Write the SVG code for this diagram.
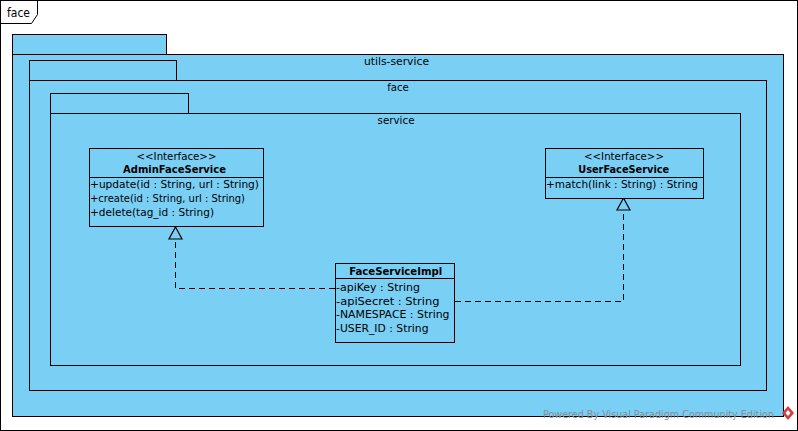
<svg xmlns="http://www.w3.org/2000/svg" width="798" height="431" viewBox="0 0 798 431">
<style>
text{font-family:"DejaVu Sans","Liberation Sans",sans-serif;font-size:11px;fill:#000}
.pkg{fill:#7acff5;stroke:#000;stroke-width:1}
.cls{fill:#7acff5;stroke:#000;stroke-width:1}
.c{text-anchor:middle}
.b{font-weight:bold}
.dep{fill:none;stroke:#000;stroke-width:1;stroke-dasharray:6,4}
.tri{fill:#7acff5;stroke:#000;stroke-width:1.2}
</style>
<rect x="0" y="0" width="798" height="431" fill="#fff"/>
<g id="frame">
<rect x="0.5" y="0.5" width="797" height="430" fill="#fff" stroke="#000"/>
<path d="M0.5,23.5 H31.5 L37.5,14.5 V0.5" fill="none" stroke="#000"/>
<text x="7" y="16.5" style="font-size:12px" textLength="23" lengthAdjust="spacingAndGlyphs">face</text>
</g>
<g id="pkg-utils-service">
<rect class="pkg" x="12.5" y="34.5" width="154" height="20"/>
<rect class="pkg" x="12.5" y="54.5" width="771" height="362"/>
<text class="c" x="396.5" y="65" textLength="65" lengthAdjust="spacingAndGlyphs">utils-service</text>
</g>
<g id="pkg-face">
<rect class="pkg" x="29.5" y="60.5" width="147" height="20"/>
<rect class="pkg" x="29.5" y="80.5" width="737" height="310"/>
<text class="c" x="398" y="91" textLength="21.5" lengthAdjust="spacingAndGlyphs">face</text>
</g>
<g id="pkg-service">
<rect class="pkg" x="50.5" y="93.5" width="138" height="20"/>
<rect class="pkg" x="50.5" y="113.5" width="690" height="252"/>
<text class="c" x="396" y="124" textLength="37" lengthAdjust="spacingAndGlyphs">service</text>
</g>
<g id="connectors">
<polyline class="dep" points="335,288.5 175.5,288.5 175.5,239"/>
<polygon class="tri" points="175.5,227 182,239 169,239"/>
<polyline class="dep" points="455,301.5 623.5,301.5 623.5,210"/>
<polygon class="tri" points="623.5,198 630,210 617,210"/>
</g>
<g id="AdminFaceService">
<rect class="cls" x="89.5" y="148.5" width="174" height="78"/>
<line x1="89.5" y1="177.5" x2="263.5" y2="177.5" stroke="#000"/>
<text class="c" x="176.5" y="159.5" textLength="80" lengthAdjust="spacingAndGlyphs">&lt;&lt;Interface&gt;&gt;</text>
<text class="c b" x="174.5" y="173" textLength="103" lengthAdjust="spacingAndGlyphs">AdminFaceService</text>
<text x="90" y="188" textLength="169" lengthAdjust="spacingAndGlyphs">+update(id : String, url : String)</text>
<text x="90" y="202" textLength="155" lengthAdjust="spacingAndGlyphs">+create(id : String, url : String)</text>
<text x="90" y="216" textLength="124" lengthAdjust="spacingAndGlyphs">+delete(tag_id : String)</text>
</g>
<g id="UserFaceService">
<rect class="cls" x="545.5" y="148.5" width="158" height="50"/>
<line x1="545.5" y1="177.5" x2="703.5" y2="177.5" stroke="#000"/>
<text class="c" x="624" y="159.5" textLength="80" lengthAdjust="spacingAndGlyphs">&lt;&lt;Interface&gt;&gt;</text>
<text class="c b" x="623.7" y="173" textLength="91" lengthAdjust="spacingAndGlyphs">UserFaceService</text>
<text x="546" y="188" textLength="152" lengthAdjust="spacingAndGlyphs">+match(link : String) : String</text>
</g>
<g id="FaceServiceImpl">
<rect class="cls" x="335.5" y="263.5" width="119" height="79"/>
<line x1="335.5" y1="278.5" x2="454.5" y2="278.5" stroke="#000"/>
<text class="c b" x="395.7" y="274.5" textLength="93" lengthAdjust="spacingAndGlyphs">FaceServiceImpl</text>
<text x="336" y="291" textLength="84" lengthAdjust="spacingAndGlyphs">-apiKey : String</text>
<text x="336" y="304.5" textLength="103.5" lengthAdjust="spacingAndGlyphs">-apiSecret : String</text>
<text x="336" y="318" textLength="113.5" lengthAdjust="spacingAndGlyphs">-NAMESPACE : String</text>
<text x="336" y="331.5" textLength="92.5" lengthAdjust="spacingAndGlyphs">-USER_ID : String</text>
</g>
<g id="watermark">
<text x="543" y="418" style="font-size:11px;fill:#8c8c8c" textLength="231" lengthAdjust="spacingAndGlyphs">Powered By Visual Paradigm Community Edition</text>
<polygon points="788,406 794,413 788,420 782,413" fill="#d23c3c"/>
<polygon points="788,410 790.5,413 788,416 785.5,413" fill="#fff"/>
</g>
</svg>
